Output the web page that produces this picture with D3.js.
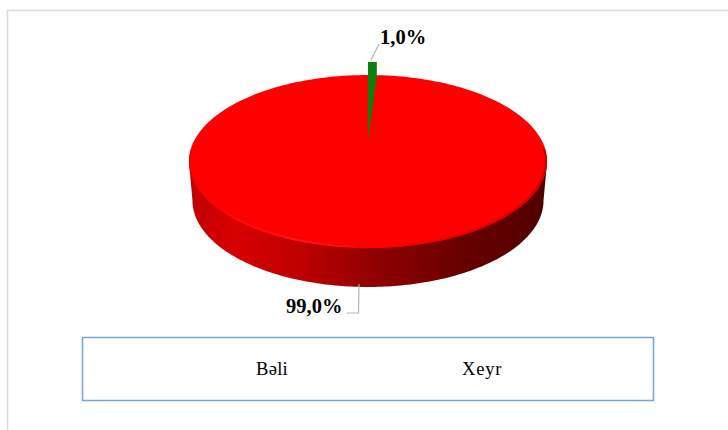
<!DOCTYPE html>
<html><head><meta charset="utf-8">
<script src="https://cdn.jsdelivr.net/npm/d3@7"></script>
<style>html,body{margin:0;padding:0;background:#fff}svg{display:block}text{font-family:"Liberation Serif",serif}</style>
</head><body><svg id="c" width="728" height="430"></svg>
<script>
const categories = ["Bəli", "Xeyr"];
const shares = [99.0, 1.0];
const shareLabels = ["99,0%", "1,0%"];
const sliceColors = ["#fe0000", "#0b7f0b"];

const svg = d3.select("#c");
const TAU = Math.PI * 2;
const pie = d3.pie().sort(null).startAngle(TAU * 0.01).endAngle(TAU * 1.01);
const slices = pie(shares);

// perspective projection of the unit disk
const R = 174, cx = 368, c = -0.237, a = 48.2, b = 141;
function project(r, ang, dy, shrink) {
  const u = r * Math.sin(ang), v = -r * Math.cos(ang), d = 1 + c * v;
  return [cx + (shrink || 1) * R * u / d, (a * v + b) / d + (dy || 0)];
}
const line = d3.line();
function rim(a0, a1, r, dy, shrink) {
  return d3.range(0, 181).map(i => project(r, a0 + (a1 - a0) * i / 180, dy, shrink));
}

const defs = svg.append("defs");
const grad = defs.append("linearGradient").attr("id", "wall");
[[0, "#c00000"], [0.13, "#d80000"], [0.3, "#c00000"], [0.5, "#940000"], [0.75, "#6a0000"], [1, "#500000"]]
  .forEach(s => grad.append("stop").attr("offset", s[0]).attr("stop-color", s[1]));
const bevel = defs.append("linearGradient").attr("id", "bevel");
[[0, "#f40000"], [0.3, "#ff1414"], [0.55, "#fa0000"], [0.85, "#e00000"], [1, "#c80000"]]
  .forEach(s => bevel.append("stop").attr("offset", s[0]).attr("stop-color", s[1]));
defs.append("filter").attr("id", "soft").append("feGaussianBlur").attr("stdDeviation", 0.5);

// frame
svg.append("path").attr("d", "M7.5,430V10.5H728").attr("fill", "none").attr("stroke", "#dcdcdc").attr("stroke-width", 1.5);

const pieG = svg.append("g").attr("filter", "url(#soft)");

// side wall: from the widest points of the top face down around the lower rim
const wallDepth = 39, widest = Math.acos(c);
const wall = [project(1, widest)].concat(rim(widest, TAU - widest, 1, wallDepth, 0.98), [project(1, TAU - widest)]);
pieG.append("path").attr("d", line(wall) + "Z").attr("fill", "url(#wall)");

// top faces
const red = slices[0], green = slices[1];
const topOutline = rim(0, TAU, 1);
pieG.append("path").datum(red)
  .attr("d", line(topOutline) + "Z")
  .attr("fill", sliceColors[0]);
pieG.append("path")
  .attr("d", line(rim(widest - 0.15, TAU - widest + 0.15, 0.993)))
  .attr("fill", "none").attr("stroke", "url(#bevel)").attr("stroke-width", 2);
const lift = 13;
pieG.append("path").datum(green)
  .attr("d", d => line([project(0, 0)].concat([project(1, d.startAngle)], rim(d.startAngle, d.endAngle, 1, -lift), [project(1, d.endAngle)])) + "Z")
  .attr("fill", sliceColors[1]);

// leaders
const leader = [
  [[359, 284], [358.5, 313], [347, 313]],
  [[371, 60], [379, 44]]
];
leader.forEach(p => svg.append("path").attr("d", line(p)).attr("fill", "none").attr("stroke", "#b4b4b4").attr("stroke-width", 1.2));

// value labels
const labelAt = [[286, 313], [380, 44]];
shareLabels.forEach((t, i) => svg.append("text").attr("x", labelAt[i][0]).attr("y", labelAt[i][1])
  .attr("font-size", 20.5).attr("font-weight", "bold").attr("fill", "#000").text(t));

// legend
svg.append("rect").attr("x", 82.5).attr("y", 337.5).attr("width", 571).attr("height", 63)
  .attr("fill", "#fff").attr("stroke", "#6fa8dc").attr("stroke-width", 1.5);
const legendX = [256, 462];
categories.forEach((t, i) => svg.append("text").attr("x", legendX[i]).attr("y", 375)
  .attr("font-size", 18.5).attr("letter-spacing", i ? 0.8 : 0.3).attr("fill", "#000").text(t));
</script></body></html>
